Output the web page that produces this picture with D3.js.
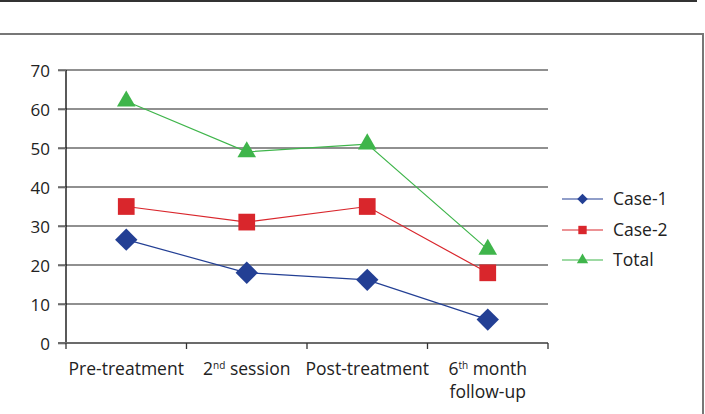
<!DOCTYPE html>
<html><head><meta charset="utf-8">
<script src="https://cdn.jsdelivr.net/npm/d3@7"></script>
<style>body{margin:0;background:#fff}svg{display:block}</style>
</head><body><svg id="c" width="705" height="414"></svg>
<script>
const categories = ["Pre-treatment", "2nd session", "Post-treatment", "6th month follow-up"];
const case1 = [26.5, 18, 16.2, 6];
const case2 = [35, 31, 35, 18];
const total = [62, 49, 51, 24];
const yTicks = [0, 10, 20, 30, 40, 50, 60, 70];
const seriesNames = ["Case-1", "Case-2", "Total"];

const svg = d3.select("#c");
const font = "'Open Sans', sans-serif";
// outer frame lines
svg.append("line").attr("x1",0).attr("x2",697).attr("y1",1).attr("y2",1).attr("stroke","#333").attr("stroke-width",2);
svg.append("path").attr("d","M0,34 H703 V414").attr("fill","none").attr("stroke","#777").attr("stroke-width",2);

const x = d3.scaleBand().domain(categories).range([66, 548]);
const y = d3.scaleLinear().domain([0, 70]).range([343, 70]);

// gridlines
svg.append("g").selectAll("line").data(yTicks.filter(d=>d>0)).join("line")
  .attr("x1",58).attr("x2",548).attr("y1",d=>y(d)).attr("y2",d=>y(d))
  .attr("stroke","#6b6b6b").attr("stroke-width",1.6);

// y axis
const ya = svg.append("g").attr("transform","translate(66,0)").call(d3.axisLeft(y).tickValues(yTicks).tickSize(8).tickPadding(8));
ya.select(".domain").attr("stroke","#000").attr("stroke-width",1.3).attr("d","M0,70V343");
ya.selectAll(".tick line").attr("stroke","#6b6b6b").attr("stroke-width",1.6);
ya.selectAll("text").attr("font-family",font).attr("font-size",17).attr("fill","#222").attr("dy","0.36em");

// x axis
const xa = svg.append("g").attr("transform","translate(0,343)");
xa.append("line").attr("x1",58).attr("x2",548).attr("stroke","#6b6b6b").attr("stroke-width",1.8);
const tickX = categories.map(c=>x(c)).concat([x.range()[1]]);
xa.selectAll(".tk").data(tickX).join("line").attr("class","tk")
  .attr("x1",d=>d).attr("x2",d=>d).attr("y1",0).attr("y2",6).attr("stroke","#333").attr("stroke-width",1.3);

const labelG = svg.append("g").attr("font-family",font).attr("font-size",17.5).attr("fill","#222").attr("text-anchor","middle");
const cx = c => x(c) + x.bandwidth()/2;
labelG.append("text").attr("x",cx(categories[0])).attr("y",375).text("Pre-treatment");
let t2 = labelG.append("text").attr("x",cx(categories[1])).attr("y",375);
t2.append("tspan").text("2");
t2.append("tspan").attr("font-size",10).attr("dy",-6).text("nd");
t2.append("tspan").attr("dy",6).text(" session");
labelG.append("text").attr("x",cx(categories[2])).attr("y",375).text("Post-treatment");
let t4 = labelG.append("text").attr("x",cx(categories[3])).attr("y",375);
t4.append("tspan").text("6");
t4.append("tspan").attr("font-size",10).attr("dy",-6).text("th");
t4.append("tspan").attr("dy",6).text(" month");
labelG.append("text").attr("x",cx(categories[3])).attr("y",398).text("follow-up");

const diamond = {draw(ctx, size){ const r = Math.sqrt(size/2); ctx.moveTo(0,-r); ctx.lineTo(r,0); ctx.lineTo(0,r); ctx.lineTo(-r,0); ctx.closePath(); }};
const series = [
  {name: seriesNames[0], vals: case1, color: "#233f94", sym: diamond, size: 250, lsize: 55},
  {name: seriesNames[1], vals: case2, color: "#d9262c", sym: d3.symbolSquare, size: 280, lsize: 70},
  {name: seriesNames[2], vals: total, color: "#3fb54b", sym: d3.symbolTriangle, size: 150, lsize: 55}
];
const line = d3.line().x((d,i)=>cx(categories[i])).y(d=>y(d));
series.forEach(s=>{
  svg.append("path").attr("d",line(s.vals)).attr("fill","none").attr("stroke",s.color).attr("stroke-width",1.2);
  svg.append("g").selectAll("path").data(s.vals).join("path")
    .attr("transform",(d,i)=>`translate(${cx(categories[i])},${y(d)})`)
    .attr("d",d3.symbol().type(s.sym).size(s.size)).attr("fill",s.color);
});

// legend
const leg = svg.append("g");
const ly = [199, 230, 260];
series.forEach((s,i)=>{
  leg.append("line").attr("x1",562).attr("x2",603).attr("y1",ly[i]).attr("y2",ly[i]).attr("stroke",s.color).attr("stroke-width",1.2);
  leg.append("path").attr("transform",`translate(582.5,${ly[i]})`).attr("d",d3.symbol().type(s.sym).size(s.lsize)).attr("fill",s.color);
  leg.append("text").attr("x",613).attr("y",ly[i]+6).attr("font-family",font).attr("font-size",17.5).attr("fill","#222").text(s.name);
});
</script></body></html>
